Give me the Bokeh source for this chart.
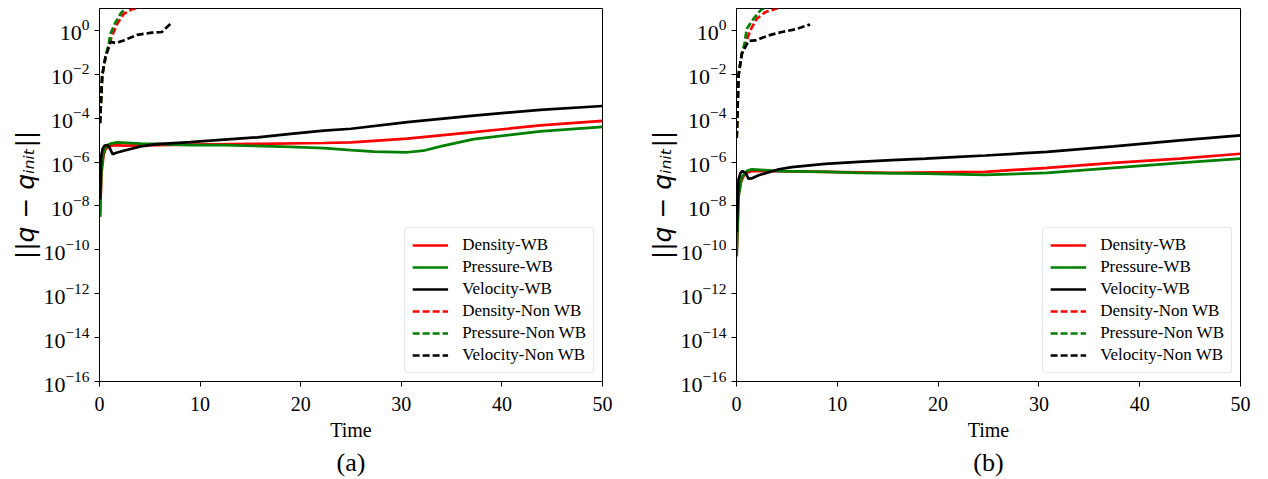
from bokeh.plotting import figure
from bokeh.layouts import row
from bokeh.models import FixedTicker, Legend, LegendItem, Title, Range1d
from bokeh.embed import file_html
from bokeh.resources import INLINE

# ---------------- Panel (a) ----------------
a_den_wb_t = [0.05, 0.2, 0.4, 0.6, 1.0, 1.4, 2.4, 9, 15.7, 22.3, 25, 30.6, 37.2, 43.8, 50]
a_den_wb_v = [3.2e-9, 3.2e-7, 2.0e-6, 4.0e-6, 5.2e-6, 5.9e-6, 5.6e-6, 6.3e-6, 6.8e-6, 7.4e-6, 7.9e-6, 1.17e-5, 2.3e-5, 4.7e-5, 7.6e-5]

a_pre_wb_t = [0.05, 0.2, 0.43, 0.7, 1.1, 1.76, 4.1, 5.7, 9, 12.4, 19, 22.3, 25, 27.3, 30.6, 32.2, 33.9, 37.2, 43.8, 50]
a_pre_wb_v = [3.2e-9, 5.0e-7, 3.7e-6, 5.6e-6, 6.9e-6, 7.9e-6, 6.9e-6, 6.8e-6, 5.9e-6, 5.9e-6, 4.9e-6, 4.3e-6, 3.5e-6, 3.0e-6, 2.8e-6, 3.3e-6, 5.2e-6, 1.12e-5, 2.5e-5, 4.0e-5]

a_vel_wb_t = [0.05, 0.15, 0.3, 0.5, 0.8, 1.0, 1.3, 1.6, 2.4, 4.1, 5.7, 9, 12.4, 15.7, 19, 22.3, 25, 30.6, 37.2, 43.8, 50]
a_vel_wb_v = [2.0e-8, 1.6e-6, 4.0e-6, 5.6e-6, 5.9e-6, 4.5e-6, 2.3e-6, 2.6e-6, 3.3e-6, 5.2e-6, 6.6e-6, 8.1e-6, 1.05e-5, 1.35e-5, 1.95e-5, 2.7e-5, 3.3e-5, 6.6e-5, 1.32e-4, 2.4e-4, 3.6e-4]

a_den_nwb_t = [0.05, 0.27, 0.6, 0.9, 1.26, 1.76, 2.4, 3.1, 3.9, 4.5]
a_den_nwb_v = [6.0e-5, 9.1e-3, 6.2e-2, 0.2, 0.59, 2.0, 5.6, 8.7, 11.2, 14.0]

a_pre_nwb_t = [0.05, 0.27, 0.6, 0.9, 1.1, 1.6, 2.1, 2.6, 3.0]
a_pre_nwb_v = [6.0e-5, 9.1e-3, 6.2e-2, 0.22, 0.71, 2.4, 5.8, 10.7, 15.8]

a_vel_nwb_t = [0.05, 0.27, 0.6, 1.1, 1.6, 2.4, 3.75, 5.2, 6.2, 7.05]
a_vel_nwb_v = [6.0e-5, 9.1e-3, 6.2e-2, 0.30, 0.27, 0.35, 0.63, 0.79, 0.85, 2.0]

# ---------------- Panel (b) ----------------
b_den_wb_t = [0.02, 0.2, 0.45, 0.7, 1.0, 1.5, 3.9, 8.8, 15.4, 22, 24.7, 30.8, 37.4, 44, 50]
b_den_wb_v = [6.3e-11, 3.2e-8, 1.26e-7, 2.3e-7, 3.2e-7, 3.9e-7, 3.9e-7, 3.6e-7, 3.2e-7, 3.5e-7, 3.6e-7, 5.5e-7, 9.3e-7, 1.45e-6, 2.4e-6]

b_pre_wb_t = [0.02, 0.2, 0.5, 1.02, 1.5, 4.2, 9.1, 12.1, 18.75, 24.7, 30.8, 37.4, 44, 50]
b_pre_wb_v = [5.0e-11, 2.5e-8, 2.0e-7, 3.9e-7, 4.7e-7, 3.9e-7, 3.6e-7, 3.2e-7, 3.0e-7, 2.6e-7, 3.2e-7, 5.5e-7, 9.3e-7, 1.45e-6]

b_vel_wb_t = [0.02, 0.2, 0.4, 0.6, 0.9, 1.2, 1.5, 2.2, 4.2, 5.5, 8.8, 12.1, 15.4, 18.75, 22, 24.7, 30.8, 37.4, 44, 50]
b_vel_wb_v = [6.3e-10, 1.6e-7, 3.2e-7, 3.9e-7, 3.2e-7, 1.74e-7, 1.8e-7, 2.5e-7, 4.7e-7, 5.9e-7, 8.3e-7, 1.02e-6, 1.23e-6, 1.45e-6, 1.74e-6, 2.0e-6, 2.9e-6, 5.2e-6, 9.8e-6, 1.66e-5]

b_den_nwb_t = [0.02, 0.2, 0.53, 0.9, 1.36, 2.0, 2.85, 3.84, 4.5]
b_den_nwb_v = [1.26e-5, 9.1e-3, 8.7e-2, 0.25, 1.0, 3.4, 6.8, 9.5, 12.6]

b_pre_nwb_t = [0.02, 0.2, 0.53, 0.8, 1.02, 1.69, 2.35, 2.7, 3.0]
b_pre_nwb_v = [1.26e-5, 9.1e-3, 8.7e-2, 0.25, 1.2, 3.4, 7.9, 10.7, 14.1]

b_vel_nwb_t = [0.02, 0.2, 0.53, 1.19, 1.85, 3.17, 4.5, 5.82, 7.3]
b_vel_nwb_v = [1.26e-5, 9.1e-3, 8.7e-2, 0.33, 0.35, 0.59, 0.85, 1.12, 1.86]

series_names = ["Density-WB", "Pressure-WB", "Velocity-WB",
                "Density-Non WB", "Pressure-Non WB", "Velocity-Non WB"]
x_ticks = [0, 10, 20, 30, 40, 50]
y_ticks = [1e-16, 1e-14, 1e-12, 1e-10, 1e-8, 1e-6, 1e-4, 1e-2, 1e0]

SERIF = "Liberation Serif"
colors = ["#ff0000", "#008000", "#000000", "#ff0000", "#008000", "#000000"]
dashes = ["solid", "solid", "solid", "7 3", "7 3", "7 3"]


def make_panel(tag, data, width, border_right):
    p = figure(width=width, height=479, y_axis_type="log",
               x_range=Range1d(0, 50), y_range=Range1d(1e-16, 10),
               output_backend="svg", toolbar_location=None,
               min_border_left=99, min_border_right=border_right,
               min_border_top=8, min_border_bottom=10)
    p.xgrid.visible = False
    p.ygrid.visible = False
    p.outline_line_color = "black"
    p.outline_line_width = 1
    p.background_fill_color = "white"
    items = []
    for (t, v), name, c, d in zip(data, series_names, colors, dashes):
        r = p.line(t, v, line_color=c, line_width=2.7, line_dash=d)
        items.append(LegendItem(label=name, renderers=[r]))
    p.xaxis.ticker = FixedTicker(ticks=x_ticks)
    p.yaxis.ticker = FixedTicker(ticks=y_ticks)
    for ax in (p.xaxis[0], p.yaxis[0]):
        ax.minor_tick_line_color = None
        ax.major_tick_in = 0
        ax.major_tick_out = 5
        ax.axis_line_color = "black"
        ax.major_tick_line_color = "black"
        ax.major_label_text_font = SERIF
        ax.major_label_text_color = "black"
    p.xaxis.major_label_text_font_size = "20px"
    p.yaxis.major_label_text_font_size = "22px"
    p.xaxis.major_label_standoff = 10
    p.xaxis.axis_label = "Time"
    p.xaxis.axis_label_text_font = SERIF
    p.xaxis.axis_label_text_font_size = "20px"
    p.xaxis.axis_label_text_font_style = "normal"
    p.xaxis.axis_label_text_color = "black"
    p.xaxis.axis_label_standoff = 5
    p.yaxis.axis_label = "||q \u2212 q\u1d62\u2099\u1d62\u209c||"
    p.yaxis.axis_label_text_font = "DejaVu Sans"
    p.yaxis.axis_label_text_font_size = "25px"
    p.yaxis.axis_label_text_font_style = "italic"
    p.yaxis.axis_label_text_color = "black"
    p.yaxis.axis_label_standoff = 0
    legend = Legend(items=items, location="bottom_right")
    legend.label_text_font = SERIF
    legend.label_text_font_size = "17px"
    legend.label_text_color = "black"
    legend.glyph_width = 36
    legend.glyph_height = 20
    legend.label_height = 20
    legend.spacing = 2
    legend.padding = 7
    legend.margin = 8
    legend.label_standoff = 14
    legend.border_line_color = "#cccccc"
    legend.border_line_width = 1
    legend.border_radius = 4
    legend.background_fill_alpha = 0.8
    p.add_layout(legend)
    p.add_layout(Title(text=tag, align="center", text_font=SERIF,
                       text_font_size="26px", text_font_style="normal",
                       text_color="black", standoff=5), "below")
    return p


data_a = [(a_den_wb_t, a_den_wb_v), (a_pre_wb_t, a_pre_wb_v), (a_vel_wb_t, a_vel_wb_v),
          (a_den_nwb_t, a_den_nwb_v), (a_pre_nwb_t, a_pre_nwb_v), (a_vel_nwb_t, a_vel_nwb_v)]
data_b = [(b_den_wb_t, b_den_wb_v), (b_pre_wb_t, b_pre_wb_v), (b_vel_wb_t, b_vel_wb_v),
          (b_den_nwb_t, b_den_nwb_v), (b_pre_nwb_t, b_pre_nwb_v), (b_vel_nwb_t, b_vel_nwb_v)]

pa = make_panel("(a)", data_a, 637, 35)
pb = make_panel("(b)", data_b, 623, 20)

layout = row(pa, pb)
open("out.html", "w").write(file_html(layout, INLINE))
